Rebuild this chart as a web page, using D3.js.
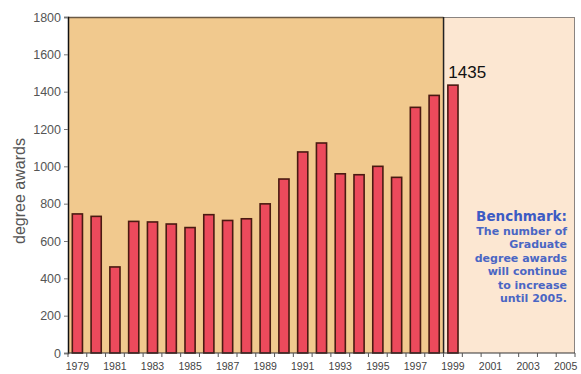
<!DOCTYPE html>
<html>
<head>
<meta charset="utf-8">
<script src="https://cdn.jsdelivr.net/npm/d3@7"></script>
<style>
  body { margin: 0; background: #fff; }
  svg { display: block; font-family: "Liberation Sans", Arial, sans-serif; }
</style>
</head>
<body>
<svg id="chart" width="581" height="374"></svg>
<script>
// Graduate degree awards per year
const years = d3.range(1979, 2006).map(String);
const awardYears = ["1979","1980","1981","1982","1983","1984","1985","1986","1987","1988",
                    "1989","1990","1991","1992","1993","1994","1995","1996","1997","1998","1999"];
const awards = [745, 732, 461, 705, 702, 691, 672, 741, 710, 719,
                799, 932, 1077, 1125, 960, 955, 1000, 941, 1316, 1380, 1435];
const yTicks = [0, 200, 400, 600, 800, 1000, 1200, 1400, 1600, 1800];
const xTickLabels = years.filter((d, i) => i % 2 === 0);
const firstForecastYear = "1999";
const benchmarkTitle = "Benchmark:";
const benchmarkLines = ["The number of", "Graduate", "degree awards", "will continue", "to increase", "until 2005."];

const svg = d3.select("#chart");
const margin = { left: 68, right: 6, top: 17, bottom: 21 };
const W = 581, H = 374;
const iw = W - margin.left - margin.right;
const ih = H - margin.top - margin.bottom;

const x = d3.scaleBand().domain(years).range([0, iw]).paddingInner(0.46).paddingOuter(0.23);
const y = d3.scaleLinear().domain([0, 1800]).range([ih, 0]);

const g = svg.append("g").attr("transform", `translate(${margin.left},${margin.top})`);

// background panels: history and outlook
const step = x.step();
const splitX = years.indexOf(firstForecastYear) * step;
g.append("rect").attr("x", 0).attr("y", 0).attr("width", splitX).attr("height", ih)
  .attr("fill", "#f1c98e");
g.append("rect").attr("x", splitX).attr("y", 0).attr("width", iw - splitX).attr("height", ih)
  .attr("fill", "#fce7d2");

// frame
g.append("line").attr("x1", 0).attr("x2", splitX).attr("y1", 0.5).attr("y2", 0.5)
  .attr("stroke", "#6b5a45").attr("stroke-width", 1.5);
g.append("line").attr("x1", splitX).attr("x2", iw).attr("y1", 0.5).attr("y2", 0.5)
  .attr("stroke", "#8a8480").attr("stroke-width", 1);
g.append("line").attr("x1", iw - 0.5).attr("x2", iw - 0.5).attr("y1", 0).attr("y2", ih)
  .attr("stroke", "#8a8480").attr("stroke-width", 1);
g.append("line").attr("x1", splitX).attr("x2", splitX).attr("y1", 0).attr("y2", ih)
  .attr("stroke", "#222").attr("stroke-width", 1.5);

// bars
const data = awardYears.map((yr, i) => ({ year: yr, value: awards[i] }));
g.selectAll("rect.bar").data(data).enter().append("rect")
  .attr("class", "bar")
  .attr("x", d => x(d.year))
  .attr("y", d => y(d.value))
  .attr("width", x.bandwidth())
  .attr("height", d => ih - y(d.value))
  .attr("fill", "#ec4a5c")
  .attr("stroke", "#4a1a12")
  .attr("stroke-width", 1.6);

// value label on last bar
const last = data[data.length - 1];
g.append("text")
  .attr("x", x(last.year) + 0.5)
  .attr("y", y(last.value) - 7)
  .attr("font-size", 17)
  .attr("fill", "#111")
  .text(last.value);

// y axis
const yAxis = g.append("g").call(d3.axisLeft(y).tickValues(yTicks).tickSize(4).tickPadding(3).tickFormat(d3.format("d")));
yAxis.select(".domain").attr("stroke", "#111").attr("stroke-width", 1.5);
yAxis.selectAll(".tick line").attr("stroke", "#777");
yAxis.selectAll("text").attr("font-size", 12.5).attr("fill", "#555");

// x axis with ticks on band edges
const xAxisG = g.append("g").attr("transform", `translate(0,${ih})`);
xAxisG.append("line").attr("x1", 0).attr("x2", iw).attr("y1", 0).attr("y2", 0)
  .attr("stroke", "#333").attr("stroke-width", 1.2);
xAxisG.selectAll("line.edge").data(years.concat(["end"])).enter().append("line")
  .attr("class", "edge")
  .attr("x1", (d, i) => i * step).attr("x2", (d, i) => i * step)
  .attr("y1", 0).attr("y2", 4)
  .attr("stroke", "#555");
xAxisG.selectAll("text").data(xTickLabels).enter().append("text")
  .attr("x", d => x(d) + x.bandwidth() / 2)
  .attr("y", 16.5)
  .attr("text-anchor", "middle")
  .attr("font-size", 10.5)
  .attr("fill", "#444")
  .text(d => d);

// y axis title
svg.append("text")
  .attr("transform", `translate(25,${margin.top + ih / 2 + 6}) rotate(-90)`)
  .attr("text-anchor", "middle")
  .attr("font-size", 16)
  .attr("fill", "#555")
  .text("degree awards");

// benchmark note
const noteX = margin.left + iw - 8;
svg.append("text")
  .attr("x", noteX).attr("y", 221)
  .attr("text-anchor", "end")
  .attr("font-family", "'DejaVu Sans', sans-serif")
  .attr("font-size", 13.5)
  .attr("font-weight", "bold")
  .attr("fill", "#3d5bc4")
  .text(benchmarkTitle);
svg.selectAll("text.note").data(benchmarkLines).enter().append("text")
  .attr("class", "note")
  .attr("x", noteX)
  .attr("y", (d, i) => 235 + i * 13.4)
  .attr("text-anchor", "end")
  .attr("font-family", "'DejaVu Sans', sans-serif")
  .attr("font-size", 11)
  .attr("font-weight", "bold")
  .attr("fill", "#4a66c4")
  .text(d => d);
</script>
</body>
</html>
